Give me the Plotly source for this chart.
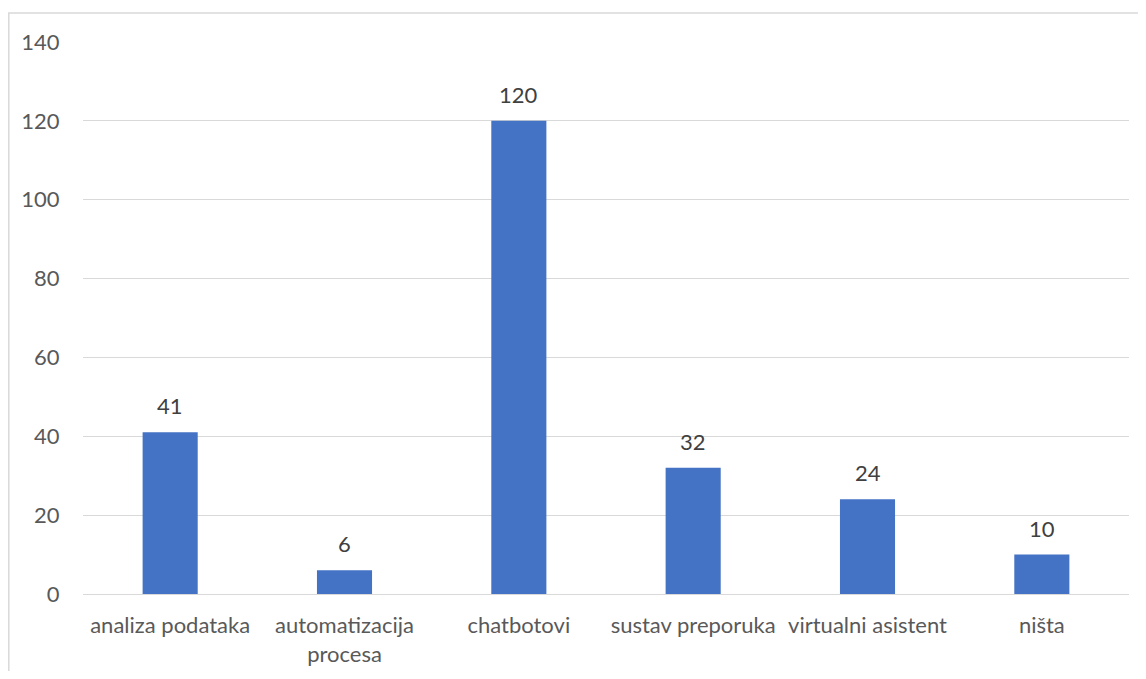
import plotly.graph_objects as go

categories = ["analiza podataka", "automatizacija<br>procesa", "chatbotovi",
              "sustav preporuka", "virtualni asistent", "ništa"]
values = [41, 6, 120, 32, 24, 10]

# page body has an 8px default margin
W, H = 1130, 663
L, T = 75, 34
pw, ph = 1046, 552
R, B = W - L - pw, H - T - ph

FONT = "Lato, Open Sans, sans-serif"

fig = go.Figure(go.Bar(
    x=categories, y=values,
    marker=dict(color="#4472C4", line=dict(width=0)),
    width=0.316,
))

for c, v in zip(categories, values):
    fig.add_annotation(x=c, y=v, text=str(v), showarrow=False, yanchor="bottom",
                       yshift=11, font=dict(family=FONT, size=22, color="#404040"))

fig.update_layout(
    width=W, height=H,
    margin=dict(l=L, r=R, t=T, b=B, pad=0, autoexpand=False),
    paper_bgcolor="white", plot_bgcolor="white",
    font=dict(family=FONT, size=22, color="#595959"),
    showlegend=False,
    xaxis=dict(showgrid=False, showline=False, zeroline=False, ticks="outside", automargin=False,
               ticklen=12, tickcolor="rgba(0,0,0,0)", tickfont=dict(size=22, color="#595959")),
    yaxis=dict(range=[0, 140], dtick=20, showgrid=True, gridcolor="#D9D9D9", gridwidth=1,
               automargin=False,
               zeroline=True, zerolinecolor="#D9D9D9", zerolinewidth=1, showline=False,
               ticks="outside", ticklen=18, tickcolor="rgba(0,0,0,0)",
               tickfont=dict(size=22, color="#595959")),
)

fig.add_shape(type="rect", xref="paper", yref="paper",
              x0=(0.8 - L) / pw, x1=(W + 20 - L) / pw,
              y0=-(H + 20 - T - ph) / ph, y1=(T + ph - 5) / ph,
              line=dict(color="#D9D9D9", width=1.5), fillcolor="rgba(0,0,0,0)", layer="below")

fig.write_html("out.html")
